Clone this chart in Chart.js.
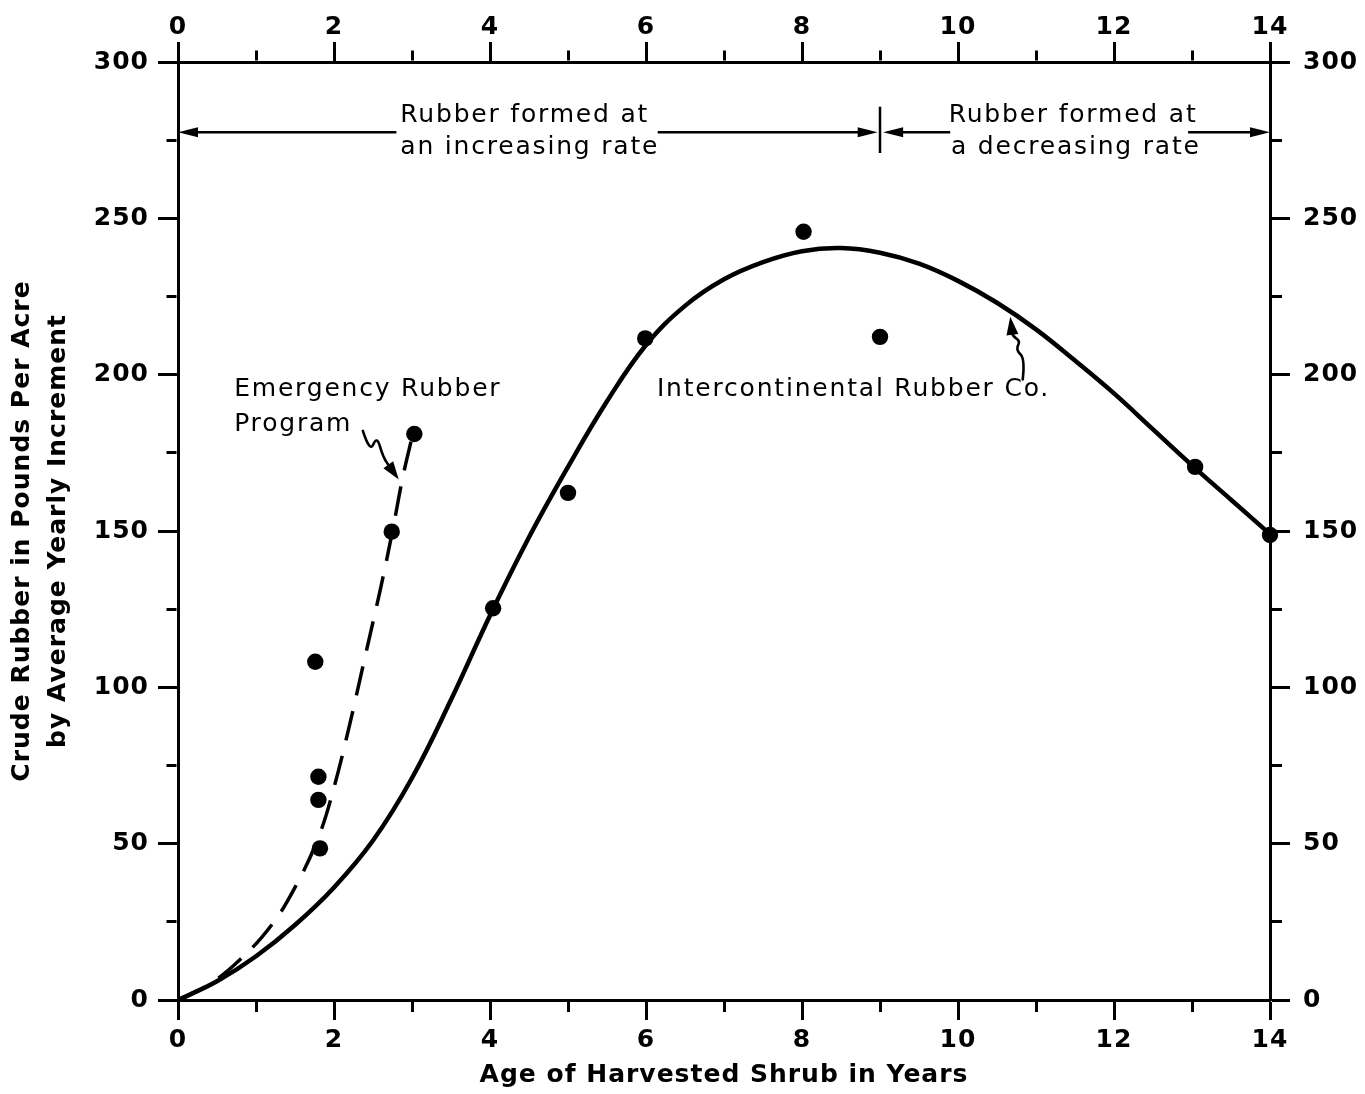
<!DOCTYPE html>
<html><head><meta charset="utf-8">
<script src="https://cdn.jsdelivr.net/npm/chart.js@4/dist/chart.umd.min.js"></script>
<style>html,body{margin:0;padding:0;background:#fff;}canvas{display:block;}</style>
</head><body>
<canvas id="c" width="1365" height="1094"></canvas>
<script>
// ---- data ----
const xMin = 0, xMax = 14, xStep = 1, xLabelEvery = 2;
const yMin = 0, yMax = 300, yStep = 25, yLabelEvery = 50;

// Intercontinental Rubber Co. fitted curve
const curveX = [0, 0.5, 1, 1.5, 2, 2.5, 3, 3.5, 4, 4.5, 5, 5.5, 6, 6.5, 7, 7.5, 8, 8.5, 9, 9.5, 10, 10.5, 11, 11.5, 12, 12.5, 13, 13.5, 14];
const curveY = [0, 6, 14, 24, 36, 51, 71, 96, 123, 148, 170.5, 191.5, 209.5, 222, 230.5, 236, 239.5, 240.5, 239, 235.5, 230, 223, 214.5, 204.5, 194, 182.5, 171, 160, 149];

// Emergency Rubber Program curve (dashed)
const ergX = [0, 0.4, 0.8, 1.2, 1.5, 1.8, 2.0, 2.2, 2.4, 2.6, 2.75, 2.88, 3.01];
const ergY = [0, 5, 13, 24, 36, 52, 68, 88, 110, 132, 150, 167, 181];

// observed points
const obsX = [1.76, 1.80, 1.80, 1.82, 2.74, 3.03, 4.04, 5.0, 5.99, 8.02, 9.0, 13.04, 14.0];
const obsY = [108.2, 71.4, 64.0, 48.5, 149.8, 181.0, 125.3, 162.2, 211.6, 245.7, 212.1, 170.5, 148.7];

const xTitle = 'Age of Harvested Shrub in Years';
const yTitle = ['Crude Rubber in Pounds Per Acre', 'by Average Yearly Increment'];

// annotations (data coordinates)
const notes = [
  {text: 'Rubber formed at', x: 2.85, y: 283.0},
  {text: 'an increasing rate', x: 2.85, y: 272.8},
  {text: 'Rubber formed at', x: 9.88, y: 283.0},
  {text: 'a decreasing rate', x: 9.91, y: 272.8},
  {text: 'Emergency Rubber', x: 0.72, y: 195.4},
  {text: 'Program', x: 0.72, y: 184.2},
  {text: 'Intercontinental Rubber Co.', x: 6.14, y: 195.4}
];
const rangeY = 277.5;
const rangeArrows = [ // [from, tip]
  [2.8, 0.0], [6.15, 8.97], [9.9, 9.04], [12.95, 14.0]
];
const rangeDivider = {x: 9.0, y1: 270.9, y2: 285.7};
const squiggles = [
  [[2.37, 182.0], [2.46, 175.0], [2.55, 180.5], [2.63, 173.5], [2.83, 166.5]],
  [[10.83, 198.5], [10.86, 205.2], [10.74, 207.9], [10.80, 210.8], [10.70, 212.3], [10.67, 218.5]]
];

// ---- helpers ----
const toXY = (xs, ys) => xs.map((x, i) => ({x, y: ys[i]}));
const BOLD = {family: 'DejaVu Sans', size: 25, weight: 'bold'};
const TL = 20;
const majorDash = [];
const minorOut = [10, 300];
const minorIn = [0, TL - 1.5 - 10, 10, 300];

function isMajor(v, every) { return Math.abs(v / every - Math.round(v / every)) < 1e-6; }

function axisX(position, height, title) {
  return {
    type: 'linear', position, min: xMin, max: xMax,
    ticks: {stepSize: xStep, autoSkip: false, maxRotation: 0, color: '#000', font: BOLD,
      padding: position === 'bottom' ? 5 : 0,
      callback: v => isMajor(v, xLabelEvery) ? String(v) : ''},
    grid: {drawOnChartArea: false, drawTicks: true, tickLength: TL, tickWidth: 3, tickColor: '#000',
      tickBorderDash: c => isMajor(c.tick.value, xLabelEvery) ? majorDash : (position === 'bottom' ? minorOut : minorIn)},
    border: {display: true, color: '#000', width: 3},
    title: title ? {display: true, text: title, color: '#000',
      font: {family: 'DejaVu Sans', size: 25, weight: 'bold', lineHeight: 1.44}, padding: {top: 0, bottom: 1}} : {display: false},
    afterFit: s => { s.height = height; }
  };
}
function axisY(position, width, title) {
  return {
    type: 'linear', position, min: yMin, max: yMax,
    ticks: {stepSize: yStep, autoSkip: false, color: '#000', font: BOLD,
      padding: position === 'left' ? 9 : 13,
      callback: v => isMajor(v, yLabelEvery) ? String(v) : ''},
    grid: {drawOnChartArea: false, drawTicks: true, tickLength: TL, tickWidth: 3, tickColor: '#000',
      tickBorderDash: c => isMajor(c.tick.value, yLabelEvery) ? majorDash : (position === 'right' ? minorOut : minorIn)},
    border: {display: true, color: '#000', width: 3},
    title: title ? {display: true, text: title, color: '#000',
      font: {family: 'DejaVu Sans', size: 25, weight: 'bold', lineHeight: 1.44}, padding: {top: 4, bottom: 0}} : {display: false},
    afterFit: s => { s.width = width; }
  };
}

function arrowHead(ctx, fx, fy, tx, ty, len, half) {
  const a = Math.atan2(ty - fy, tx - fx);
  const bx = tx - len * Math.cos(a), by = ty - len * Math.sin(a);
  ctx.beginPath();
  ctx.moveTo(tx, ty);
  ctx.lineTo(bx + half * Math.sin(a), by - half * Math.cos(a));
  ctx.lineTo(bx - half * Math.sin(a), by + half * Math.cos(a));
  ctx.closePath();
  ctx.fill();
}

const spacingPlugin = {
  id: 'spacing',
  beforeDraw(chart) { chart.ctx.letterSpacing = '1px'; }
};

const notesPlugin = {
  id: 'notes',
  afterDatasetsDraw(chart) {
    const ctx = chart.ctx, xs = chart.scales.x, ys = chart.scales.y;
    const P = (x, y) => [xs.getPixelForValue(x), ys.getPixelForValue(y)];
    ctx.save();
    ctx.fillStyle = '#000'; ctx.strokeStyle = '#000';
    ctx.letterSpacing = '1.8px';
    ctx.font = '25px "DejaVu Sans"';
    ctx.textBaseline = 'middle'; ctx.textAlign = 'left';
    notes.forEach(n => { const [x, y] = P(n.x, n.y); ctx.fillText(n.text, x, y); });

    // range arrows
    ctx.lineWidth = 2.5; ctx.lineCap = 'butt';
    rangeArrows.forEach(([f, t]) => {
      const [fx, fy] = P(f, rangeY), [tx, ty] = P(t, rangeY);
      const dir = Math.sign(tx - fx);
      ctx.beginPath(); ctx.moveTo(fx, fy); ctx.lineTo(tx - dir * 10, ty); ctx.stroke();
      arrowHead(ctx, fx, fy, tx, ty, 20, 5);
    });
    const [dx, dy1] = P(rangeDivider.x, rangeDivider.y1), [, dy2] = P(rangeDivider.x, rangeDivider.y2);
    ctx.lineWidth = 2.5;
    ctx.beginPath(); ctx.moveTo(dx, dy1); ctx.lineTo(dx, dy2); ctx.stroke();

    // squiggle arrows
    ctx.lineWidth = 2.6; ctx.lineJoin = 'round'; ctx.lineCap = 'round';
    squiggles.forEach(sq => {
      const pts = sq.map(p => P(p[0], p[1]));
      const n = pts.length;
      const tip = pts[n - 1], prev = pts[n - 2];
      const a = Math.atan2(tip[1] - prev[1], tip[0] - prev[0]);
      const end = [tip[0] - 12 * Math.cos(a), tip[1] - 12 * Math.sin(a)];
      const path = pts.slice(0, n - 1).concat([end]);
      ctx.beginPath();
      ctx.moveTo(path[0][0], path[0][1]);
      for (let i = 1; i < path.length - 1; i++) {
        const mx = (path[i][0] + path[i + 1][0]) / 2, my = (path[i][1] + path[i + 1][1]) / 2;
        ctx.quadraticCurveTo(path[i][0], path[i][1], mx, my);
      }
      ctx.lineTo(end[0], end[1]);
      ctx.stroke();
      arrowHead(ctx, prev[0], prev[1], tip[0], tip[1], 18, 6);
    });
    ctx.restore();
  }
};

new Chart(document.getElementById('c'), {
  type: 'line',
  data: {
    datasets: [
      {label: 'Intercontinental Rubber Co.', data: toXY(curveX, curveY), borderColor: '#000', borderWidth: 4.5,
        pointRadius: 0, tension: 0.4, fill: false, clip: false},
      {label: 'Emergency Rubber Program', data: toXY(ergX, ergY), borderColor: '#000', borderWidth: 3.5,
        borderDash: [30, 16], pointRadius: 0, tension: 0.4, fill: false, clip: false},
      {label: 'Observed', data: toXY(obsX, obsY), showLine: false, pointRadius: 8.2, pointBackgroundColor: '#000',
        pointBorderColor: '#000', pointBorderWidth: 0, clip: false}
    ]
  },
  options: {
    responsive: false, animation: false, devicePixelRatio: 1,
    layout: {padding: 0},
    plugins: {legend: {display: false}, tooltip: {enabled: false}},
    scales: {
      x: axisX('bottom', 94, xTitle),
      x2: axisX('top', 62, null),
      y: axisY('left', 178, yTitle),
      y2: axisY('right', 95, null)
    }
  },
  plugins: [spacingPlugin, notesPlugin]
});
</script>
</body></html>
